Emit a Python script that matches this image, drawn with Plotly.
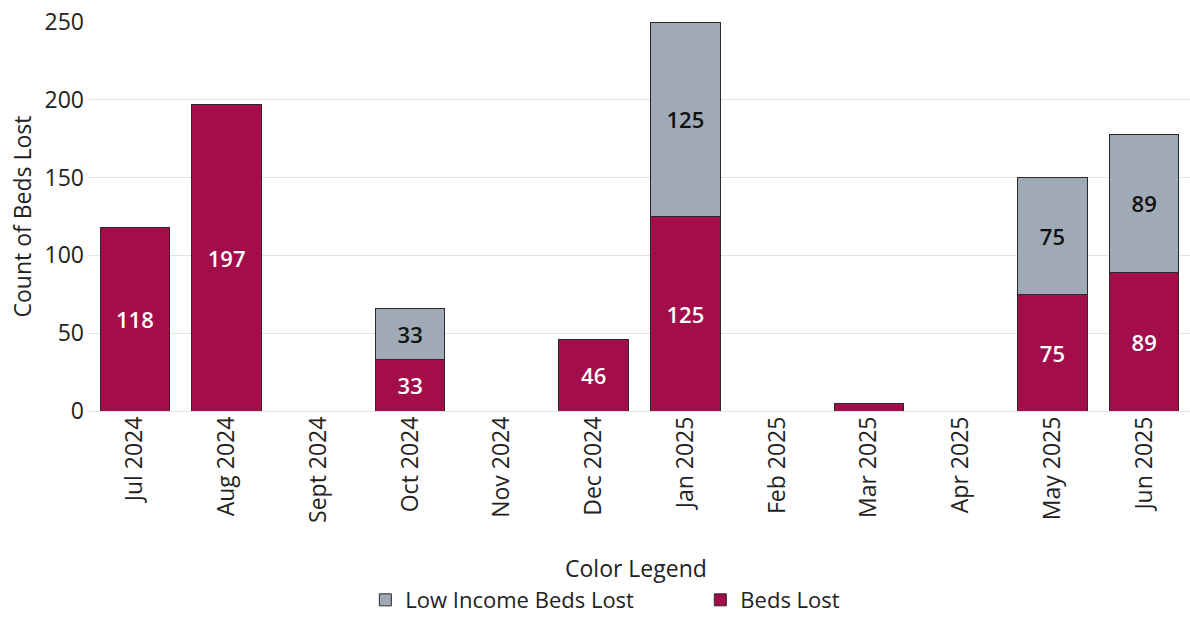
import plotly.graph_objects as go

months = ["Jul 2024", "Aug 2024", "Sept 2024", "Oct 2024", "Nov 2024", "Dec 2024",
          "Jan 2025", "Feb 2025", "Mar 2025", "Apr 2025", "May 2025", "Jun 2025"]
beds_lost = [118, 197, None, 33, None, 46, 125, None, 5, None, 75, 89]
low_income = [None, 0, None, 33, None, 0, 125, None, 0, None, 75, 89]

def labels(vals):
    return [str(v) if (v is not None and v >= 10) else "" for v in vals]

FONT = "Open Sans, Noto Sans, sans-serif"

fig = go.Figure()
fig.add_trace(go.Bar(
    x=months, y=beds_lost, name="Beds Lost",
    marker=dict(color="#A20D4A", line=dict(color="#2a2a2a", width=1)),
    text=labels(beds_lost), textposition="inside", insidetextanchor="middle",
    textfont=dict(color="white", size=22, family=FONT, weight=600), textangle=0,
))
fig.add_trace(go.Bar(
    x=months, y=low_income, name="Low Income Beds Lost",
    marker=dict(color="#A0AAB6", line=dict(color="#2a2a2a", width=1)),
    text=labels(low_income), textposition="inside", insidetextanchor="middle",
    textfont=dict(color="#111111", size=22, family=FONT, weight=600), textangle=0,
))

fig.update_layout(
    width=1190, height=618,
    barmode="stack", bargap=0.24,
    plot_bgcolor="white", paper_bgcolor="white",
    margin=dict(l=89, r=0, t=22, b=207, autoexpand=False),
    font=dict(family=FONT, size=24, color="#222222"),
    uniformtext=dict(mode="show", minsize=10),
    xaxis=dict(tickangle=-90, tickfont=dict(size=23), showgrid=False,
               ticks="", showline=False, automargin=False),
    yaxis=dict(range=[0, 250], tickvals=[0, 50, 100, 150, 200, 250],
               gridcolor="#e3e3e3", gridwidth=1, zeroline=True, zerolinecolor="#e3e3e3",
               zerolinewidth=1, automargin=False,
               tickfont=dict(size=23), ticklabelstandoff=4,
               title=dict(text="Count of Beds Lost", font=dict(size=23), standoff=6)),
    legend=dict(orientation="h", x=0.251, xanchor="left", y=-0.486, yanchor="middle",
                traceorder="reversed", font=dict(size=22),
                entrywidth=290, entrywidthmode="pixels",
                bgcolor="rgba(0,0,0,0)"),
    annotations=[dict(text="Color Legend", xref="paper", yref="paper",
                      x=0.497, y=-0.404, xanchor="center", yanchor="middle",
                      showarrow=False, font=dict(size=23))],
)

fig.write_html("out.html")
